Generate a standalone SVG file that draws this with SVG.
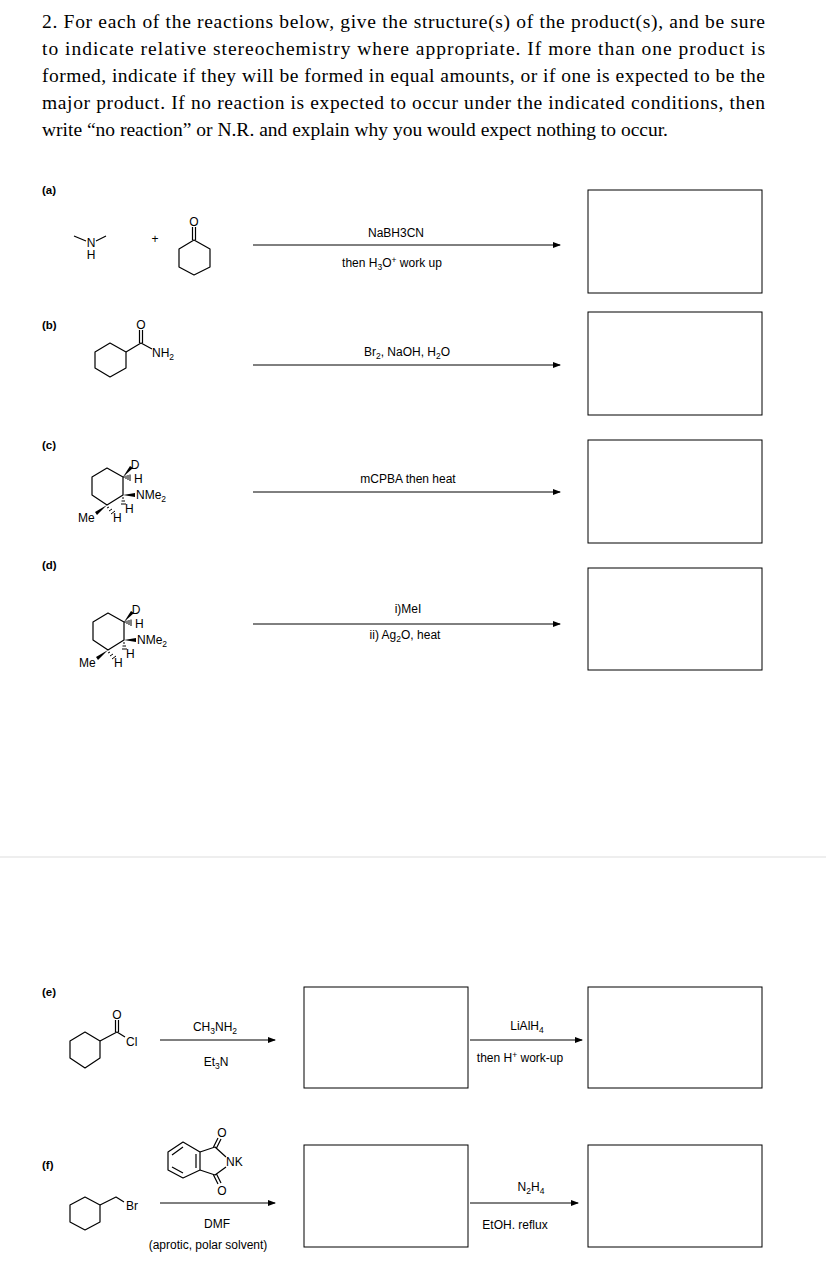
<svg xmlns="http://www.w3.org/2000/svg" width="826" height="1276" viewBox="0 0 826 1276">
<defs>
<marker id="ah" markerWidth="8" markerHeight="6" refX="7" refY="3" orient="auto" markerUnits="userSpaceOnUse"><path d="M0,0 L8,3 L0,6 Z" fill="#000"/></marker>
</defs>
<style>
.q{font-family:"Liberation Serif",serif;font-size:19.5px;fill:#000}
.l{font-family:"Liberation Sans",Arial,sans-serif;font-size:11.5px;font-weight:bold}
.a{font-family:"Liberation Sans",Arial,sans-serif;font-size:12px;fill:#000}
.b{fill:none;stroke:#000;stroke-width:1.2;stroke-linejoin:round}
.box{fill:#fff;stroke:#000;stroke-width:1}
.ar{stroke:#000;stroke-width:1;marker-end:url(#ah)}
</style>
<rect width="826" height="1276" fill="#fff"/>
<g id="question">
<text class="q" x="42" y="28" textLength="723" lengthAdjust="spacing">2. For each of the reactions below, give the structure(s) of the product(s), and be sure</text>
<text class="q" x="42" y="55" textLength="723" lengthAdjust="spacing">to indicate relative stereochemistry where appropriate. If more than one product is</text>
<text class="q" x="42" y="82" textLength="723" lengthAdjust="spacing">formed, indicate if they will be formed in equal amounts, or if one is expected to be the</text>
<text class="q" x="42" y="109" textLength="723" lengthAdjust="spacing">major product. If no reaction is expected to occur under the indicated conditions, then</text>
<text class="q" x="42" y="136">write “no reaction” or N.R. and explain why you would expect nothing to occur.</text>
</g>
<line x1="0" y1="857" x2="826" y2="857" stroke="#ddd" stroke-width="1"/>
<g id="labels">
<text class="l" x="42" y="194">(a)</text>
<text class="l" x="42" y="329">(b)</text>
<text class="l" x="42" y="449">(c)</text>
<text class="l" x="42" y="569">(d)</text>
<text class="l" x="42" y="996">(e)</text>
<text class="l" x="42" y="1169">(f)</text>
</g>
<g id="boxes">
<rect class="box" x="588" y="190" width="174" height="103"/>
<rect class="box" x="588" y="312" width="174" height="103"/>
<rect class="box" x="588" y="440" width="174" height="103"/>
<rect class="box" x="588" y="568" width="174" height="102"/>
<rect class="box" x="304" y="987" width="164" height="101"/>
<rect class="box" x="588" y="987" width="174" height="101"/>
<rect class="box" x="304" y="1145" width="164" height="102"/>
<rect class="box" x="588" y="1145" width="174" height="102"/>
</g>
<g id="connectors">
<line class="ar" x1="253" y1="245" x2="560" y2="245"/>
<line class="ar" x1="253" y1="365" x2="560" y2="365"/>
<line class="ar" x1="253" y1="492" x2="560" y2="492"/>
<line class="ar" x1="253" y1="624" x2="560" y2="624"/>
<line class="ar" x1="160" y1="1040" x2="275" y2="1040"/>
<line class="ar" x1="470" y1="1040" x2="582" y2="1040"/>
<line class="ar" x1="160" y1="1203" x2="275" y2="1203"/>
<line class="ar" x1="470" y1="1203" x2="578" y2="1203"/>
</g>
<g id="reagents">
<text class="a" x="396" y="237" text-anchor="middle">NaBH3CN</text>
<text class="a" x="392" y="267" text-anchor="middle">then H<tspan font-size="8.5" dy="3">3</tspan><tspan dy="-3">O</tspan><tspan font-size="8.5" dy="-4">+</tspan><tspan dy="4"> work up</tspan></text>
<text class="a" x="407" y="356" text-anchor="middle">Br<tspan font-size="8.5" dy="3">2</tspan><tspan dy="-3">, NaOH, H</tspan><tspan font-size="8.5" dy="3">2</tspan><tspan dy="-3">O</tspan></text>
<text class="a" x="408" y="483" text-anchor="middle">mCPBA then heat</text>
<text class="a" x="408" y="613" text-anchor="middle">i)MeI</text>
<text class="a" x="405" y="639" text-anchor="middle">ii) Ag<tspan font-size="8.5" dy="3">2</tspan><tspan dy="-3">O, heat</tspan></text>
<text class="a" x="215" y="1031" text-anchor="middle">CH<tspan font-size="8.5" dy="3">3</tspan><tspan dy="-3">NH</tspan><tspan font-size="8.5" dy="3">2</tspan></text>
<text class="a" x="216" y="1066" text-anchor="middle">Et<tspan font-size="8.5" dy="3">3</tspan><tspan dy="-3">N</tspan></text>
<text class="a" x="527" y="1030" text-anchor="middle">LiAlH<tspan font-size="8.5" dy="3">4</tspan></text>
<text class="a" x="520" y="1062" text-anchor="middle">then H<tspan font-size="8.5" dy="-4">+</tspan><tspan dy="4"> work-up</tspan></text>
<text class="a" x="531" y="1191" text-anchor="middle">N<tspan font-size="8.5" dy="3">2</tspan><tspan dy="-3">H</tspan><tspan font-size="8.5" dy="3">4</tspan></text>
<text class="a" x="515" y="1229" text-anchor="middle">EtOH. reflux</text>
<text class="a" x="217" y="1228" text-anchor="middle">DMF</text>
<text class="a" x="208" y="1249" text-anchor="middle">(aprotic, polar solvent)</text>
</g>
<g id="mol-a">
<path class="b" d="M74,236 L86,241 M96,241 L106,236"/>
<text class="a" x="91" y="247" text-anchor="middle">N</text>
<text class="a" x="91" y="259" text-anchor="middle">H</text>
<text class="a" x="155" y="243" text-anchor="middle">+</text>
<path class="b" d="M194,240 L210,249 L210,267 L194,275 L179,267 L179,249 Z"/>
<path class="b" d="M192.5,240 L192.5,227 M195.5,240 L195.5,227"/>
<text class="a" x="194" y="226" text-anchor="middle">O</text>
</g>
<g id="mol-b">
<path class="b" d="M95,352 L110,343 L126,352 L126,368 L110,377 L95,368 Z"/>
<path class="b" d="M126,352 L141,343 L152,349"/>
<path class="b" d="M139.5,343 L139.5,330 M142.5,343 L142.5,330"/>
<text class="a" x="141" y="329" text-anchor="middle">O</text>
<text class="a" x="152" y="357">NH<tspan font-size="8.5" dy="3">2</tspan></text>
</g>
<g id="mol-c">
<path class="b" d="M107,468 L123,477 L123,495 L107,505 L92,495 L92,477 Z"/>
<path d="M123,477 L133,468 L130,466 Z" fill="#000"/>
<text class="a" x="135" y="469" text-anchor="middle">D</text>
<path d="M124,478 L124,476 M126,479 L126,475.5 M128,480 L128,475 M130,481 L130,474.5" stroke="#000" stroke-width="1"/>
<text class="a" x="134" y="483">H</text>
<path d="M123,495 L135,493 L135,497 Z" fill="#000"/>
<text class="a" x="136" y="499">NMe<tspan font-size="8.5" dy="3">2</tspan></text>
<path d="M122,498 L124,498 M121.5,501 L125,501 M121,504 L126,504" stroke="#000" stroke-width="1"/>
<text class="a" x="125" y="513">H</text>
<path d="M107,505 L95,512 L97,515 Z" fill="#000"/>
<text class="a" x="78" y="522">Me</text>
<path d="M109,507 L107,508 M112,509 L109,511 M115,511 L111,514" stroke="#000" stroke-width="1"/>
<text class="a" x="113" y="522">H</text>
</g>
<g id="mol-d" transform="translate(1,145)">
<path class="b" d="M107,468 L123,477 L123,495 L107,505 L92,495 L92,477 Z"/>
<path d="M123,477 L133,468 L130,466 Z" fill="#000"/>
<text class="a" x="135" y="469" text-anchor="middle">D</text>
<path d="M124,478 L124,476 M126,479 L126,475.5 M128,480 L128,475 M130,481 L130,474.5" stroke="#000" stroke-width="1"/>
<text class="a" x="134" y="483">H</text>
<path d="M123,495 L135,493 L135,497 Z" fill="#000"/>
<text class="a" x="136" y="499">NMe<tspan font-size="8.5" dy="3">2</tspan></text>
<path d="M122,498 L124,498 M121.5,501 L125,501 M121,504 L126,504" stroke="#000" stroke-width="1"/>
<text class="a" x="125" y="513">H</text>
<path d="M107,505 L95,512 L97,515 Z" fill="#000"/>
<text class="a" x="78" y="522">Me</text>
<path d="M109,507 L107,508 M112,509 L109,511 M115,511 L111,514" stroke="#000" stroke-width="1"/>
<text class="a" x="113" y="522">H</text>
</g>
<g id="mol-e">
<path class="b" d="M85,1032 L100,1041 L100,1058 L85,1068 L70,1058 L70,1041 Z"/>
<path class="b" d="M100,1041 L117,1032 L125,1037"/>
<path class="b" d="M115.5,1032 L115.5,1020 M118.5,1032 L118.5,1020"/>
<text class="a" x="117" y="1019" text-anchor="middle">O</text>
<text class="a" x="126" y="1046">Cl</text>
</g>
<g id="mol-f">
<path class="b" d="M70,1205 L85,1197 L100,1205 L100,1222 L85,1230 L70,1222 Z"/>
<path class="b" d="M100,1205 L116,1197 L124,1202"/>
<text class="a" x="126" y="1210">Br</text>
</g>
<g id="phthalimide">
<path class="b" d="M168,1152 L183,1142 L200,1152 L200,1170 L183,1178 L168,1170 Z"/>
<path class="b" d="M172,1155 L183,1147 M196,1154 L196,1168 M172,1167 L183,1173"/>
<path class="b" d="M200,1152 L215,1147 L226,1157 M226,1167 L215,1175 L200,1170"/>
<path class="b" d="M213.5,1147 L218,1138 M216.5,1148 L221,1139 M213.5,1175 L218,1184 M216.5,1174 L221,1183"/>
<text class="a" x="222" y="1137" text-anchor="middle">O</text>
<text class="a" x="222" y="1195" text-anchor="middle">O</text>
<text class="a" x="226" y="1166">NK</text>
</g>
</svg>
